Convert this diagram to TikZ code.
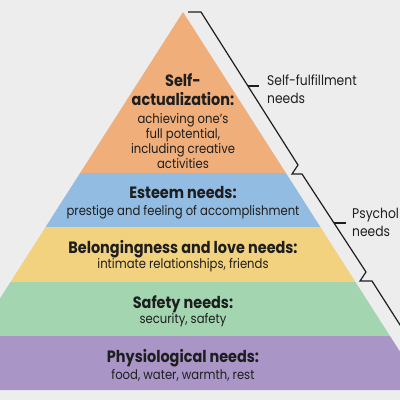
\documentclass[tikz,border=0pt]{standalone}
\usepackage{fontspec}
\setmainfont{Poppins}[FakeStretch=0.88]
\definecolor{bg}{HTML}{EDEDEE}
\definecolor{orangeband}{HTML}{F0AE7A}
\definecolor{blueband}{HTML}{93BCE2}
\definecolor{yellowband}{HTML}{F2D27F}
\definecolor{greenband}{HTML}{A3D5B0}
\definecolor{purpleband}{HTML}{A995C6}
\definecolor{ink}{HTML}{1E1E1E}
\newcommand{\hd}[1]{{\fontsize{16.4}{15}\selectfont\bfseries #1}}
\tikzset{
  bracket/.style={draw=ink, line width=1.2pt, line join=miter},
  bandtext/.style={text=ink, align=center, inner sep=0pt, font=\fontsize{13.2}{15}\selectfont},
  sidetext/.style={text=ink, align=left, anchor=west, inner sep=0pt, font=\fontsize{14}{18}\selectfont},
}
\begin{document}
\begin{tikzpicture}[x=1pt,y=-1pt]
\useasboundingbox (0,0) rectangle (400,400);
\fill[bg] (0,0) rectangle (400,400);
\begin{scope}
\clip (0,0) rectangle (400,400);
\fill[orangeband] (183,12) -- (285.9,173) -- (80.1,173) -- cycle;
\fill[blueband] (80.1,173) -- (285.9,173) -- (320.4,227) -- (45.6,227) -- cycle;
\fill[yellowband] (45.6,227) -- (320.4,227) -- (355.5,282) -- (10.5,282) -- cycle;
\fill[greenband] (10.5,282) -- (355.5,282) -- (390,336) -- (-24,336) -- cycle;
\fill[purpleband] (-24,336) -- (390,336) -- (424.5,390) -- (-58.5,390) -- cycle;
\draw[bracket] (188,12) -- (201,12) -- (298,165) -- (292,174) -- (302,174) -- (366,272) -- (360,281) -- (372,281) -- (448,400);
\coordinate (t1a) at (247.9,86);
\coordinate (t1b) at (259,86);
\coordinate (t2a) at (334,223);
\coordinate (t2b) at (346,223);
\draw[bracket] (t1a) -- (t1b);
\draw[bracket] (t2a) -- (t2b);
\end{scope}
\node[bandtext] (selfact) at (183,121) {\hd{Self-}\\[4pt]\hd{actualization:}\\[3pt]achieving one’s\\full potential,\\including creative\\activities};
\node[bandtext] (esteem) at (183,202.5) {\hd{Esteem needs:}\\[2pt]prestige and feeling of accomplishment};
\node[bandtext] (belong) at (183,256) {\hd{Belongingness and love needs:}\\[0pt]intimate relationships, friends};
\node[bandtext] (safety) at (183,311) {\hd{Safety needs:}\\[0pt]security, safety};
\node[bandtext] (physio) at (183,365) {\hd{Physiological needs:}\\[2pt]food, water, warmth, rest};
\node[sidetext] (selffulfil) at (267,89) {Self-fulfillment\\needs};
\node[sidetext] (psych) at (352,222) {Psychol\\needs};
\end{tikzpicture}
\end{document}
